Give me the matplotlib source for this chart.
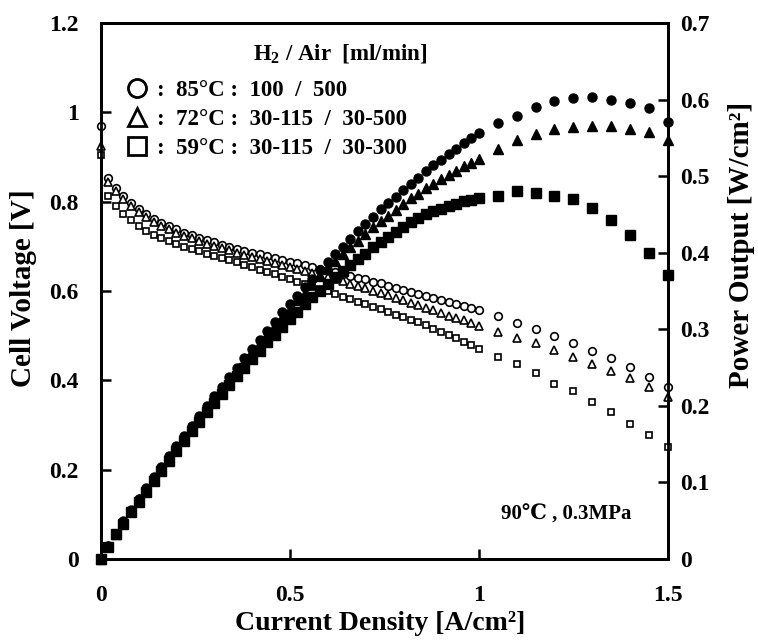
import numpy as np
import matplotlib
matplotlib.use("Agg")
import matplotlib.pyplot as plt
from matplotlib.lines import Line2D

plt.rcParams['font.family'] = ['Liberation Serif', 'DejaVu Serif']
plt.rcParams['font.weight'] = 'bold'
plt.rcParams['mathtext.fontset'] = 'custom'
plt.rcParams['mathtext.rm'] = 'Liberation Serif:bold'
plt.rcParams['mathtext.it'] = 'Liberation Serif:bold'
plt.rcParams['mathtext.default'] = 'rm'

# current density [A/cm2]: dense 0..1.0 by 0.02, then 1.05..1.5 by 0.05
current = [0.00, 0.02, 0.04, 0.06, 0.08, 0.10, 0.12, 0.14, 0.16, 0.18,
           0.20, 0.22, 0.24, 0.26, 0.28, 0.30, 0.32, 0.34, 0.36, 0.38,
           0.40, 0.42, 0.44, 0.46, 0.48, 0.50, 0.52, 0.54, 0.56, 0.58,
           0.60, 0.62, 0.64, 0.66, 0.68, 0.70, 0.72, 0.74, 0.76, 0.78,
           0.80, 0.82, 0.84, 0.86, 0.88, 0.90, 0.92, 0.94, 0.96, 0.98,
           1.00, 1.05, 1.10, 1.15, 1.20, 1.25, 1.30, 1.35, 1.40, 1.45, 1.50]

# cell voltage [V]
volt_85 = [0.970, 0.852, 0.830, 0.812, 0.797, 0.784, 0.772, 0.762, 0.753, 0.745,
           0.738, 0.731, 0.725, 0.719, 0.714, 0.709, 0.704, 0.699, 0.695, 0.690,
           0.686, 0.682, 0.678, 0.674, 0.670, 0.666, 0.662, 0.658, 0.654, 0.650,
           0.646, 0.642, 0.638, 0.634, 0.630, 0.626, 0.621, 0.617, 0.612, 0.607,
           0.603, 0.598, 0.593, 0.589, 0.584, 0.579, 0.575, 0.570, 0.566, 0.561,
           0.557, 0.543, 0.528, 0.514, 0.499, 0.484, 0.466, 0.449, 0.430, 0.407, 0.384]
volt_72 = [0.925, 0.845, 0.823, 0.805, 0.790, 0.777, 0.765, 0.755, 0.746, 0.738,
           0.731, 0.724, 0.718, 0.712, 0.706, 0.701, 0.696, 0.691, 0.686, 0.681,
           0.677, 0.672, 0.668, 0.663, 0.659, 0.654, 0.650, 0.645, 0.641, 0.636,
           0.632, 0.627, 0.622, 0.616, 0.611, 0.606, 0.601, 0.596, 0.590, 0.585,
           0.580, 0.574, 0.568, 0.563, 0.557, 0.551, 0.545, 0.539, 0.534, 0.528,
           0.522, 0.509, 0.494, 0.483, 0.468, 0.453, 0.436, 0.421, 0.405, 0.384, 0.363]
volt_59 = [0.905, 0.812, 0.790, 0.773, 0.758, 0.746, 0.735, 0.726, 0.718, 0.711,
           0.705, 0.699, 0.694, 0.689, 0.684, 0.679, 0.674, 0.669, 0.664, 0.659,
           0.653, 0.648, 0.643, 0.638, 0.632, 0.627, 0.621, 0.616, 0.610, 0.604,
           0.599, 0.593, 0.587, 0.582, 0.576, 0.570, 0.565, 0.559, 0.553, 0.547,
           0.542, 0.536, 0.530, 0.523, 0.516, 0.508, 0.501, 0.494, 0.486, 0.479,
           0.471, 0.453, 0.436, 0.417, 0.392, 0.375, 0.352, 0.328, 0.302, 0.278, 0.250]

# power output [W/cm2]
power_85 = [0.000, 0.017, 0.033, 0.049, 0.064, 0.078, 0.093, 0.107, 0.120, 0.134,
            0.148, 0.161, 0.174, 0.187, 0.200, 0.213, 0.225, 0.238, 0.250, 0.262,
            0.274, 0.286, 0.298, 0.310, 0.322, 0.333, 0.344, 0.355, 0.366, 0.377,
            0.388, 0.398, 0.408, 0.418, 0.428, 0.438, 0.447, 0.457, 0.465, 0.473,
            0.482, 0.490, 0.498, 0.507, 0.514, 0.521, 0.529, 0.536, 0.543, 0.550,
            0.557, 0.569, 0.579, 0.590, 0.598, 0.602, 0.603, 0.600, 0.596, 0.589, 0.571]
power_72 = [0.000, 0.017, 0.033, 0.048, 0.063, 0.078, 0.092, 0.106, 0.119, 0.133,
            0.146, 0.159, 0.172, 0.185, 0.198, 0.210, 0.223, 0.235, 0.247, 0.259,
            0.271, 0.282, 0.294, 0.305, 0.316, 0.327, 0.338, 0.348, 0.359, 0.369,
            0.379, 0.389, 0.398, 0.407, 0.415, 0.424, 0.433, 0.441, 0.448, 0.456,
            0.464, 0.471, 0.477, 0.484, 0.490, 0.496, 0.501, 0.507, 0.513, 0.517,
            0.522, 0.536, 0.547, 0.555, 0.561, 0.564, 0.566, 0.566, 0.561, 0.558, 0.547]
power_59 = [0.000, 0.016, 0.032, 0.046, 0.061, 0.075, 0.088, 0.102, 0.115, 0.128,
            0.141, 0.154, 0.167, 0.179, 0.192, 0.204, 0.216, 0.227, 0.239, 0.250,
            0.261, 0.272, 0.283, 0.293, 0.303, 0.314, 0.323, 0.333, 0.342, 0.350,
            0.359, 0.368, 0.376, 0.384, 0.392, 0.399, 0.407, 0.414, 0.420, 0.427,
            0.434, 0.440, 0.445, 0.450, 0.454, 0.457, 0.461, 0.464, 0.467, 0.469,
            0.471, 0.474, 0.480, 0.478, 0.474, 0.470, 0.459, 0.443, 0.423, 0.400, 0.371]

legend_title = "H$_2$ / Air  [ml/min]"
legend_labels = [":  85°C :  100  /  500",
                 ":  72°C :  30-115  /  30-500",
                 ":  59°C :  30-115  /  30-300"]
markers = ['o', '^', 's']

fig = plt.figure(figsize=(7.58, 6.41), dpi=100)
ax = fig.add_axes([0.133, 0.128, 0.748, 0.836])
ax2 = ax.twinx()

for v, m in zip([volt_85, volt_72, volt_59], markers):
    ax.plot(current, v, ls='none', marker=m, ms=5.5 if m != 's' else 5,
            mfc='white', mec='black', mew=1.2, clip_on=False, zorder=3)

for p, m in zip([power_85, power_72, power_59], markers):
    ax2.plot(current, p, ls='none', marker=m, ms=6.5,
             mfc='black', mec='black', clip_on=False, zorder=3)

ax.set_xlim(0, 1.5)
ax.set_ylim(0, 1.2)
ax2.set_ylim(0, 0.7)

ax.set_xticks([0, 0.5, 1, 1.5])
ax.set_xticklabels(['0', '0.5', '1', '1.5'])
ax.set_yticks([0, 0.2, 0.4, 0.6, 0.8, 1.0, 1.2])
ax.set_yticklabels(['0', '0.2', '0.4', '0.6', '0.8', '1', '1.2'])
ax2.set_yticks([0, 0.1, 0.2, 0.3, 0.4, 0.5, 0.6, 0.7])
ax2.set_yticklabels(['0', '0.1', '0.2', '0.3', '0.4', '0.5', '0.6', '0.7'])

ax.tick_params(axis='both', direction='in', length=7, width=1.8,
               labelsize=17, pad=16)
ax.tick_params(axis='x', pad=19)
ax2.tick_params(axis='y', direction='in', length=7, width=1.8,
                labelsize=17, pad=9)
for a in (ax, ax2):
    for s in a.spines.values():
        s.set_linewidth(2)

ax.set_xlabel("Current Density [A/cm²]", fontsize=20, fontweight='bold')
ax.xaxis.set_label_coords(0.492, -0.097)
ax.set_ylabel("Cell Voltage [V]", fontsize=21, fontweight='bold')
ax.yaxis.set_label_coords(-0.113, 0.505)
ax2.set_ylabel("Power Output [W/cm²]", fontsize=21, fontweight='bold')
ax2.yaxis.set_label_coords(1.107, 0.586)

# legend block: title as its own text, entries as a frameless legend
ax.text(0.4215, 0.944, legend_title, transform=ax.transAxes,
        ha='center', va='center', fontsize=16.5, fontweight='bold', zorder=5)
handles = [Line2D([], [], ls='none', marker=m, ms=13, mfc='white',
                  mec='black', mew=2) for m in markers]
leg = ax.legend(handles, legend_labels, loc='upper left',
                bbox_to_anchor=(0.043, 0.8946), frameon=False, fontsize=16.5,
                handlelength=1.0, handletextpad=0.4, borderpad=0,
                borderaxespad=0, labelspacing=0.35)
leg.set_zorder(5)

ax.text(0.935, 0.082, "90℃ , 0.3MPa", transform=ax.transAxes,
        ha='right', va='center', fontsize=15, fontweight='bold')

fig.savefig("out.png", dpi=100)
